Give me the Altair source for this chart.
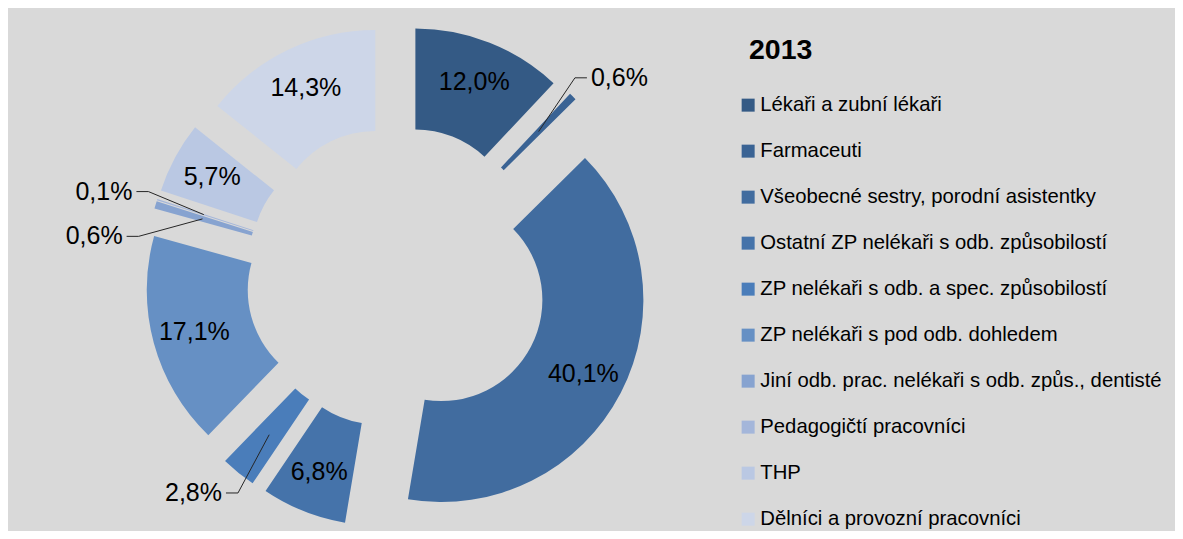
import altair as alt
import pandas as pd

categories = [
    "Lékaři a zubní lékaři",
    "Farmaceuti",
    "Všeobecné sestry, porodní asistentky",
    "Ostatní ZP nelékaři s odb. způsobilostí",
    "ZP nelékaři s odb. a spec. způsobilostí",
    "ZP nelékaři s pod odb. dohledem",
    "Jiní odb. prac. nelékaři s odb. způs., dentisté",
    "Pedagogičtí pracovníci",
    "THP",
    "Dělníci a provozní pracovníci",
]
values = [12.0, 0.6, 40.1, 6.8, 2.8, 17.1, 0.6, 0.1, 5.7, 14.3]
colors = ["#345a85", "#3a6394", "#416c9f", "#4573aa", "#4a7dba",
          "#6690c4", "#87a3d0", "#a4b6da", "#bac8e3", "#cdd6e8"]
title_text = "2013"

FONT = "Liberation Sans, Arial, sans-serif"
CX, CY = 389, 269
EXPLODE = 50
R_OUT, R_IN = 202, 101
R_LBL, R_OUT_LBL, R_LEAD = 160, 228, 153

df = pd.DataFrame({"cat": categories, "val": values, "idx": list(range(len(values)))})

base = (
    alt.Chart(df)
    .transform_joinaggregate(total="sum(val)")
    .transform_window(cum="sum(val)", sort=[alt.SortField("idx", order="ascending")], frame=[None, 0])
    .transform_window(nxt="lead(val)", sort=[alt.SortField("idx", order="ascending")])
    .transform_calculate(
        t1="datum.cum / datum.total * 2 * PI",
        t0="(datum.cum - datum.val) / datum.total * 2 * PI",
    )
    .transform_calculate(mid="(datum.t0 + datum.t1) / 2")
    .transform_calculate(
        cx=f"{CX} + {EXPLODE} * sin(datum.mid)",
        cy=f"{CY} - {EXPLODE} * cos(datum.mid)",
        small="datum.val < 3",
        lbl="replace(format(datum.val, '.1f'), '.', ',') + '%'",
    )
    .transform_calculate(
        la="datum.mid - ((datum.small && datum.nxt != null && datum.nxt < 3) ? 10 * PI / 180 : 0)",
        lx=f"datum.cx + {R_LBL} * sin(datum.mid)",
        ly=f"datum.cy - {R_LBL} * cos(datum.mid)",
        px=f"datum.cx + {R_LEAD} * sin(datum.mid)",
        py=f"datum.cy - {R_LEAD} * cos(datum.mid)",
    )
    .transform_calculate(
        tx=f"datum.cx + {R_OUT_LBL} * sin(datum.la)",
        ty=f"datum.cy - {R_OUT_LBL} * cos(datum.la)",
        left="sin(datum.la) < 0",
    )
    .transform_calculate(
        ex="datum.left ? datum.tx + 16 : datum.tx - 16",
        sx="datum.left ? datum.tx + 4 : datum.tx - 4",
    )
)

arcs = base.mark_arc(radius=R_OUT, radius2=R_IN).encode(
    theta=alt.Theta("t0:Q", scale=None, stack=None),
    theta2="t1:Q",
    x=alt.X("cx:Q", scale=None, axis=None),
    y=alt.Y("cy:Q", scale=None, axis=None),
    color=alt.Color(
        "cat:N",
        sort=categories,
        scale=alt.Scale(domain=categories, range=colors),
        legend=alt.Legend(
            orient="none", legendX=730, legendY=87, title=None,
            symbolType="square", symbolSize=169, symbolStrokeWidth=0,
            labelFont=FONT, labelFontSize=20.3, labelColor="#000000",
            rowPadding=25, labelOffset=2, labelLimit=600,
        ),
    ),
)

inside = base.transform_filter("!datum.small").mark_text(
    font=FONT, fontSize=25, color="#000000", baseline="middle", align="center"
).encode(x=alt.X("lx:Q", scale=None), y=alt.Y("ly:Q", scale=None), text="lbl:N")

out_left = base.transform_filter("datum.small && datum.left").mark_text(
    font=FONT, fontSize=25, color="#000000", baseline="middle", align="right"
).encode(x=alt.X("tx:Q", scale=None), y=alt.Y("ty:Q", scale=None), text="lbl:N")

out_right = base.transform_filter("datum.small && !datum.left").mark_text(
    font=FONT, fontSize=25, color="#000000", baseline="middle", align="left"
).encode(x=alt.X("tx:Q", scale=None), y=alt.Y("ty:Q", scale=None), text="lbl:N")

lead_diag = base.transform_filter("datum.small").mark_rule(color="#262626", strokeWidth=1).encode(
    x=alt.X("ex:Q", scale=None), y=alt.Y("ty:Q", scale=None),
    x2="px:Q", y2="py:Q",
)
lead_stub = base.transform_filter("datum.small").mark_rule(color="#262626", strokeWidth=1).encode(
    x=alt.X("sx:Q", scale=None), y=alt.Y("ty:Q", scale=None),
    x2="ex:Q", y2="ty:Q",
)

title = alt.Chart(alt.Data(values=[{"t": title_text}])).mark_text(
    font=FONT, fontSize=28.5, fontWeight="bold", color="#000000", align="left", baseline="middle"
).encode(x=alt.value(741), y=alt.value(42), text="t:N")

chart = (
    alt.layer(arcs, inside, out_left, out_right, lead_diag, lead_stub, title)
    .properties(width=1167, height=523, padding=0, background="#d9d9d9")
    .configure_view(stroke=None)
)

chart.save("out.html", embed_options={"renderer": "svg", "actions": False})
